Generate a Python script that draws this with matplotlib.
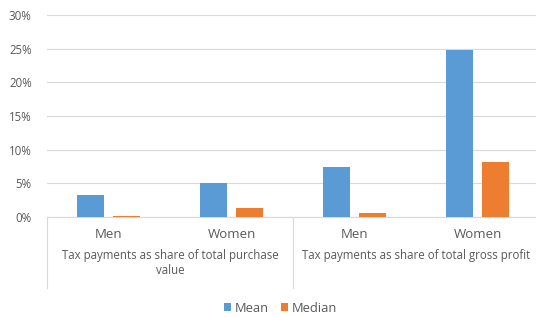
import numpy as np
import matplotlib.pyplot as plt
from matplotlib.ticker import PercentFormatter, MultipleLocator
from matplotlib.transforms import blended_transform_factory

# Data
categories = ["Men", "Women", "Men", "Women"]
groups = ["Tax payments as share of total purchase\nvalue",
          "Tax payments as share of total gross profit"]
mean_vals = [0.033, 0.051, 0.075, 0.248]
median_vals = [0.002, 0.014, 0.006, 0.082]

blue = "#5B9BD5"
orange = "#ED7D31"
text_col = "#595959"
line_col = "#D9D9D9"

plt.rcParams['font.family'] = ['Open Sans', 'DejaVu Sans']

fig = plt.figure(figsize=(5.36, 3.17), dpi=100)
ax = fig.add_axes([47 / 536, 100 / 317, 492 / 536, 202 / 317])

x = np.arange(len(categories))
w = 0.22
ax.bar(x - 0.143, mean_vals, w, color=blue, label="Mean", zorder=3)
ax.bar(x + 0.143, median_vals, w, color=orange, label="Median", zorder=3)

ax.set_xlim(-0.5, 3.5)
ax.set_ylim(0, 0.30)
ax.yaxis.set_major_locator(MultipleLocator(0.05))
ax.yaxis.set_major_formatter(PercentFormatter(1.0, decimals=0))
ax.grid(axis="y", color=line_col, linewidth=0.8, zorder=0)
ax.tick_params(axis="y", length=0, labelsize=8.3, labelcolor=text_col, pad=11)
ax.set_xticks([])
for s in ["top", "right", "left"]:
    ax.spines[s].set_visible(False)
ax.spines["bottom"].set_color(line_col)

# category and group labels
trans = blended_transform_factory(ax.transData, ax.transAxes)
for i, c in enumerate(categories):
    ax.text(i, -0.088, c, transform=trans, ha="center", va="center",
            fontsize=9.5, color=text_col)
for j, g in enumerate(groups):
    ax.text(0.5 + 2 * j, -0.16, g, transform=trans, ha="center", va="top",
            fontsize=8.3, color=text_col, linespacing=1.2)
for xs in [-0.5, 1.5, 3.5]:
    ax.plot([xs, xs], [0, -0.35], transform=trans, color=line_col,
            linewidth=0.8, clip_on=False)

fig.legend(loc="center", bbox_to_anchor=(0.523, 0.028), ncol=2,
           frameon=False, fontsize=9.3, labelcolor=text_col,
           handlelength=0.55, handleheight=0.55, handletextpad=0.3,
           columnspacing=0.9)

fig.savefig("out.png", dpi=100)
